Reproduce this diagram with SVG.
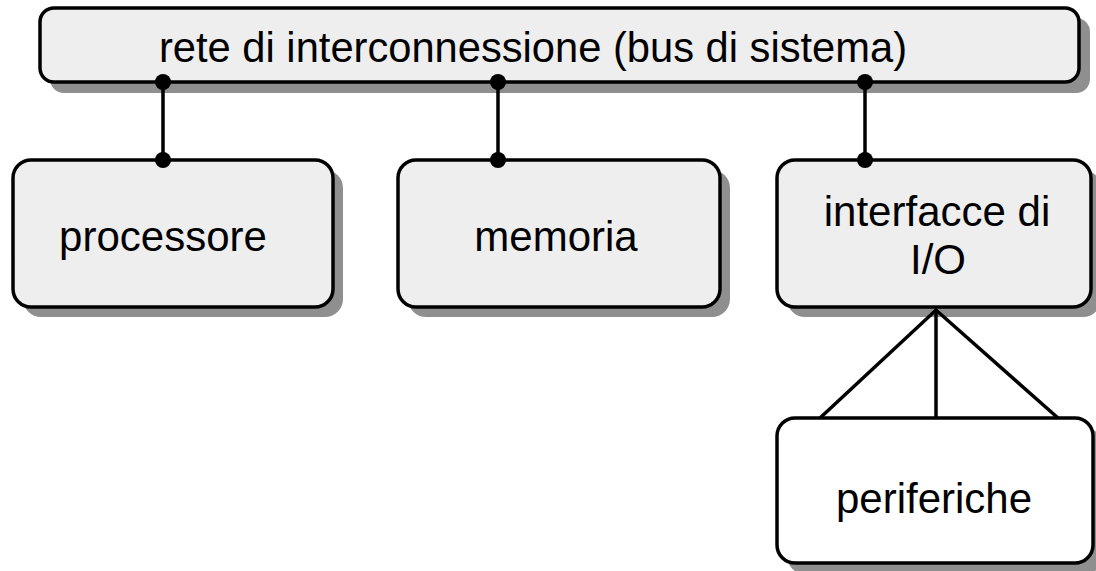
<svg xmlns="http://www.w3.org/2000/svg" width="1096" height="571" viewBox="0 0 1096 571">
  <style>
    .shadow { fill: #8f8f8f; stroke: none; }
    .box { fill: #eeeeee; stroke: #000; stroke-width: 3.5; }
    .box-white { fill: #ffffff; stroke: #000; stroke-width: 3.5; }
    .label { font-family: "Liberation Sans", Arial, Helvetica, sans-serif; font-size: 42px; fill: #000; text-anchor: middle; }
    .wire { stroke: #000; stroke-width: 3.5; fill: none; }
    .dot { fill: #000; }
  </style>
  <rect width="1096" height="571" fill="#ffffff"/>

  <!-- system bus -->
  <g id="bus">
    <rect class="shadow" x="50" y="18" width="1040" height="75" rx="14"/>
    <rect class="box" x="40" y="8" width="1039" height="74" rx="14"/>
    <text class="label" x="533" y="62" textLength="748" lengthAdjust="spacingAndGlyphs">rete di interconnessione (bus di sistema)</text>
  </g>

  <g id="processore">
    <rect class="shadow" x="23" y="170" width="320" height="147" rx="18"/>
    <rect class="box" x="13" y="160" width="320" height="147" rx="18"/>
    <text class="label" x="163" y="251">processore</text>
  </g>

  <g id="memoria">
    <rect class="shadow" x="408" y="170" width="322" height="147" rx="18"/>
    <rect class="box" x="398" y="160" width="322" height="147" rx="18"/>
    <text class="label" x="556" y="251">memoria</text>
  </g>

  <g id="interfacce">
    <rect class="shadow" x="787" y="170" width="314" height="147" rx="18"/>
    <rect class="box" x="777" y="160" width="314" height="147" rx="18"/>
    <text class="label" x="937" y="226">interfacce di</text>
    <text class="label" x="938" y="274">I/O</text>
  </g>

  <g id="periferiche">
    <rect class="shadow" x="787" y="428" width="316" height="146" rx="18"/>
    <rect class="box-white" x="777" y="418" width="316" height="145" rx="18"/>
    <text class="label" x="934" y="513">periferiche</text>
  </g>

  <!-- connections -->
  <g id="connectors">
    <line class="wire" x1="163" y1="82" x2="163" y2="160"/>
    <line class="wire" x1="498" y1="82" x2="498" y2="160"/>
    <line class="wire" x1="865" y1="82" x2="865" y2="160"/>
    <circle class="dot" cx="163" cy="82" r="8"/>
    <circle class="dot" cx="163" cy="160" r="8"/>
    <circle class="dot" cx="498" cy="82" r="8"/>
    <circle class="dot" cx="498" cy="160" r="8"/>
    <circle class="dot" cx="865" cy="82" r="8"/>
    <circle class="dot" cx="865" cy="160" r="8"/>
    <polyline class="wire" points="820,418 936,310 1058,418"/>
    <line class="wire" x1="936" y1="310" x2="936" y2="418"/>
  </g>
</svg>
